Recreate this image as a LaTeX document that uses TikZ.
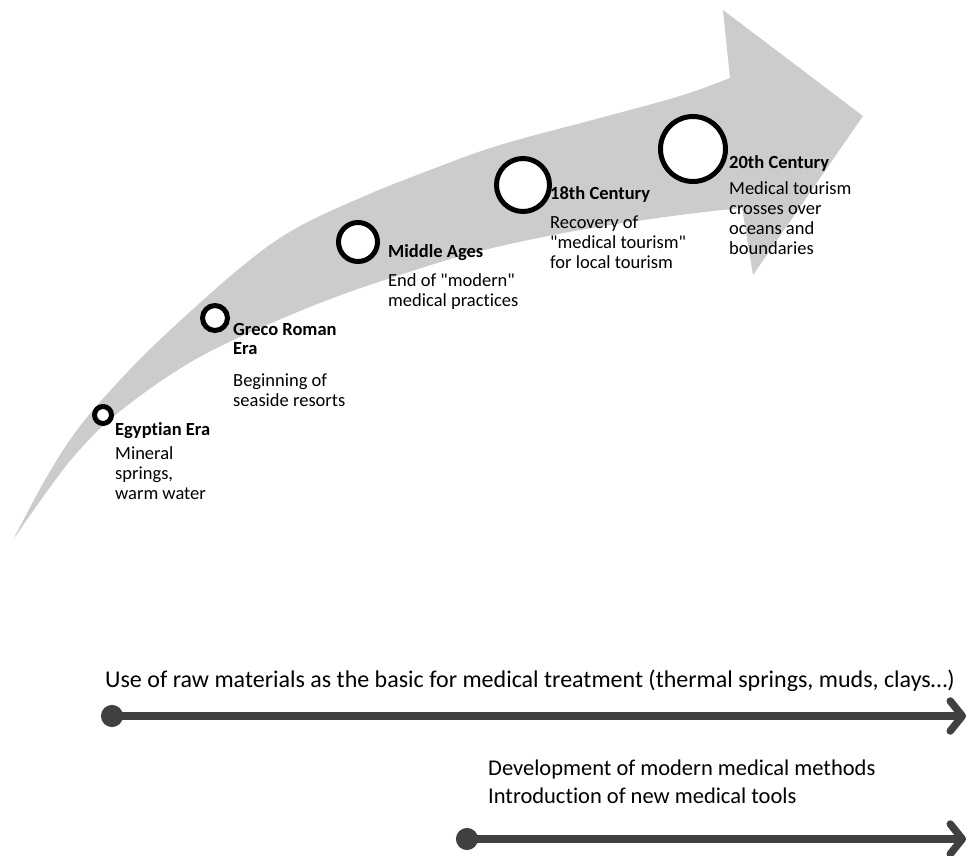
\documentclass[tikz,border=0pt]{standalone}
\usepackage{fontspec}
\setmainfont{Carlito}[Ligatures={TeX,NoCommon}]
\usetikzlibrary{arrows.meta}
\definecolor{shaftgray}{HTML}{CCCCCC}
\definecolor{linegray}{HTML}{404040}
\newcommand{\eralines}[1]{\begin{tabular}[t]{@{}l@{}}#1\end{tabular}}
\newcommand{\qq}{\textquotedbl}
\tikzset{
	eraring/.style={line width=5pt, fill=white},
	eratitle/.style={anchor=base west, inner sep=0pt, font=\fontsize{18.5}{19}\selectfont\bfseries},
	eratext/.style={anchor=base west, inner sep=0pt, font=\fontsize{18.5}{20}\selectfont},
	spanline/.style={line width=7.5pt, draw=linegray, {Circle[length=22pt]}-{Straight Barb[length=12pt,width=30pt,round]}},
	spantext/.style={anchor=base west, inner sep=0pt, font=\fontsize{24}{28}\selectfont}
}
\begin{document}
\begin{tikzpicture}[x=1pt, y=-1pt]
		\useasboundingbox (0,0) rectangle (972,856);
		
		% big curved arrow
		\fill[shaftgray] plot[smooth, tension=0.6] coordinates {(13,540) (45,480) (77,430) (120,380) (167,333) (240,268) (293,230) (360,198) (430,170) (500,145) (600,118) (680,96) (730,78)}
			-- (723,10) -- (863,116) -- (753,275) -- (742,208)
			-- plot[smooth, tension=0.6] coordinates {(742,208) (680,215) (580,230) (480,251) (400,275) (320,303) (227,343) (170,375) (113,417) (75,455) (43,497) (13,540)} -- cycle;
		
		\foreach \cx/\cy/\r/\lx/\ly/\dy/\ttl/\dsc/\n in {
			103/415/8.5/115/435/459/{Egyptian Era}/{Mineral\\springs,\\warm water}/egypt,
			215/318/12.5/233/335/386/{Greco Roman\\Era}/{Beginning of\\seaside resorts}/greco,
			358/242/19.5/388/257/286/{Middle Ages}/{End of \qq modern\qq\\medical practices}/middle,
			523/185/26.5/550/200/228/{18th Century}/{Recovery of\\\qq medical tourism\qq\\for local tourism}/c18,
			693/149/32.5/729/168/194/{20th Century}/{Medical tourism\\crosses over\\oceans and\\boundaries}/c20}
		{
			\draw[eraring] (\cx,\cy) circle[radius=\r];
			\node[eratitle] (title-\n) at (\lx,\ly) {\eralines{\ttl}};
			\node[eratext] (text-\n) at (\lx,\dy) {\eralines{\dsc}};
		}
		
		% time spans
		\node[spantext] (raw) at (105,687) {Use of raw materials as the basic for medical treatment (thermal springs, muds, clays…)};
		\coordinate (raw-start) at (101,716);
		\coordinate (raw-end) at (966,716);
		\draw[spanline] (raw-start) -- (raw-end);
		
		\node[spantext, font=\fontsize{22.5}{28}\selectfont] (modern) at (488,775) {\eralines{Development of modern medical methods\\Introduction of new medical tools}};
		\coordinate (modern-start) at (456,839);
		\coordinate (modern-end) at (966,839);
		\draw[spanline] (modern-start) -- (modern-end);
	\end{tikzpicture}
\end{document}
